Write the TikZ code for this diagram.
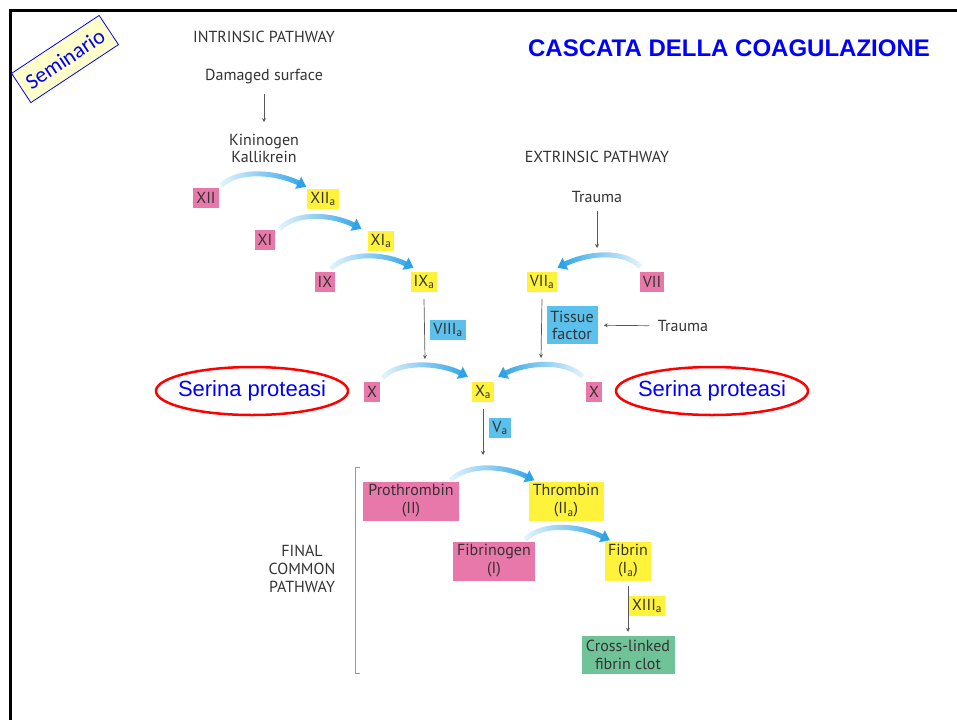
\documentclass[tikz,border=0pt]{standalone}
\usepackage{fontspec}
\setmainfont{PT Sans}
\newfontfamily\arialfont{Liberation Sans}
\newfontfamily\calibfont{Carlito}
\usetikzlibrary{arrows.meta,fadings,positioning}

\definecolor{factpink}{RGB}{233,120,170}
\definecolor{factyellow}{RGB}{255,242,58}
\definecolor{factblue}{RGB}{92,192,236}
\definecolor{clotgreen}{RGB}{112,194,152}
\definecolor{arcblue}{RGB}{38,160,230}
\definecolor{txtgray}{RGB}{51,51,51}
\definecolor{notepaper}{RGB}{255,255,204}

% fadings for the blue activation arcs
\tikzfading[name=arcfadeR, left color=transparent!90, middle color=transparent!15, right color=transparent!0]
\tikzfading[name=arcfadeL, left color=transparent!0, middle color=transparent!15, right color=transparent!90]

\tikzset{
  factor/.style={inner xsep=3pt, inner ysep=2pt, minimum height=20pt, text=txtgray,
    font=\fontsize{16}{18}\selectfont, align=center},
  pinkbox/.style={factor, fill=factpink},
  yellowbox/.style={factor, fill=factyellow},
  bluebox/.style={factor, fill=factblue},
  greenbox/.style={factor, fill=clotgreen},
  pathtext/.style={text=txtgray, font=\fontsize{16}{17}\selectfont, align=center},
  thinarr/.style={draw=gray!70!black, line width=0.7pt, -{Stealth[length=4pt,width=4pt]}},
  actarc/.style={draw=arcblue, line width=5pt, -{Triangle[width=13pt,length=9pt]}},
  sertext/.style={text=blue, font=\arialfont\fontsize{22}{24}\selectfont},
  redring/.style={draw=red, line width=2.5pt},
}

\begin{document}
\begin{tikzpicture}[x=1pt,y=-1pt]
\useasboundingbox (0,0) rectangle (957,720);

% frame
\draw[line width=3pt] (957,10.5) -- (10.5,10.5) -- (10.5,720);

\node[draw=blue, line width=0.8pt, fill=notepaper, rotate=33.5, minimum width=105pt, minimum height=35pt,
  text=blue, font=\calibfont\fontsize{22}{24}\selectfont] (semi) at (65,59) {Seminario};
\node[text=blue, font=\arialfont\bfseries\fontsize{24}{26}\selectfont] (title) at (729,48) {CASCATA DELLA COAGULAZIONE};

% intrinsic pathway
\node[pathtext] (intr) at (264,37) {INTRINSIC PATHWAY};
\node[pathtext] (dmg) at (264,77) {Damaged surface};
\node[pathtext] (kin) at (264,148) {Kininogen\\Kallikrein};
\draw[thinarr, shorten <=6pt, shorten >=8pt] (dmg) -- (kin);

\node[pinkbox] (XII) at (206,198) {XII};
\node[yellowbox] (XIIa) at (323,199) {XII\textsubscript{a}};
\node[pinkbox] (XI) at (265,240) {XI};
\node[yellowbox] (XIa) at (381,241) {XI\textsubscript{a}};
\node[pinkbox] (IX) at (325,282) {IX};
\node[yellowbox] (IXa) at (424,282) {IX\textsubscript{a}};
\node[bluebox] (VIIIa) at (448,330) {VIII\textsubscript{a}};

\draw[actarc, path fading=arcfadeR] ([xshift=2pt,yshift=2pt]XII.north east) .. controls +(18,-18) and +(-28,-14) .. ([xshift=-1pt,yshift=2pt]XIIa.north west);
\draw[actarc, path fading=arcfadeR] ([xshift=4pt,yshift=1pt]XI.north east) .. controls +(18,-18) and +(-28,-14) .. ([xshift=-6pt,yshift=2pt]XIa.north west);
\draw[actarc, path fading=arcfadeR] ([xshift=-5pt,yshift=3pt]IX.north east) .. controls +(18,-18) and +(-28,-14) .. ([xshift=3pt,yshift=4pt]IXa.north west);

\coordinate (ixdown) at (425,359);
\draw[thinarr] ([yshift=-7pt]IXa.south) -- (ixdown);

% extrinsic pathway
\node[pathtext] (extr) at (597,157) {EXTRINSIC PATHWAY};
\node[pathtext] (trauma1) at (597,197) {Trauma};
\coordinate (trdown) at (597,248);
\draw[thinarr, shorten <=5pt] (trauma1) -- (trdown);

\node[yellowbox] (VIIa) at (542,282) {VII\textsubscript{a}};
\node[pinkbox] (VII) at (652,282) {VII};
\draw[actarc, path fading=arcfadeL] ([xshift=1pt,yshift=5pt]VII.north west) .. controls +(-18,-18) and +(28,-14) .. ([yshift=4pt]VIIa.north east);

\node[bluebox, minimum width=51pt, minimum height=38pt, font=\fontsize{16}{17}\selectfont] (tissue) at (572,325) {Tissue\\factor};
\node[pathtext] (trauma2) at (683,326) {Trauma};
\draw[thinarr, shorten <=5pt, shorten >=6pt] (trauma2) -- (tissue);

\coordinate (viidown) at (541,358);
\draw[thinarr] ([yshift=-7pt]VIIa.south) -- (viidown);

% factor X
\node[pinkbox] (Xl) at (372,392) {X};
\node[yellowbox] (Xa) at (483,392) {X\textsubscript{a}};
\node[pinkbox] (Xr) at (594,392) {X};
\draw[actarc, path fading=arcfadeR] ([xshift=2pt,yshift=4pt]Xl.north east) .. controls +(18,-18) and +(-28,-14) .. ([xshift=-4pt,yshift=5pt]Xa.north west);
\draw[actarc, path fading=arcfadeL] ([xshift=-3pt,yshift=5pt]Xr.north west) .. controls +(-18,-18) and +(28,-14) .. ([xshift=4pt,yshift=5pt]Xa.north east);

\node[sertext] (serL) at (252,391) {Serina proteasi};
\node[sertext] (serR) at (712,391) {Serina proteasi};
\draw[redring] (serL.center) ellipse [x radius=96pt, y radius=24pt];
\draw[redring] (serR.center) ellipse [x radius=96pt, y radius=24pt];

\node[bluebox] (Va) at (500,428) {V\textsubscript{a}};
\coordinate (xadown) at (483,455);
\draw[thinarr] ([yshift=-7pt]Xa.south) -- (xadown);

% final common pathway
\node[pathtext, font=\fontsize{16}{18}\selectfont] (fcp) at (302,569) {FINAL\\COMMON\\PATHWAY};
\coordinate (brtop) at (360,467);
\coordinate (brbot) at (360,673);
\draw[gray!80, line width=1pt] (brtop) -- ++(-5,0) |- (brbot);

\node[pinkbox, minimum width=96pt, minimum height=39pt] (Pro) at (411,501) {Prothrombin\\(II)};
\node[yellowbox, minimum width=75pt, minimum height=39pt] (Thr) at (566,501) {Thrombin\\(II\textsubscript{a})};
\node[pinkbox, minimum width=82pt, minimum height=39pt] (Fbg) at (494,561) {Fibrinogen\\(I)};
\node[yellowbox, minimum width=46pt, minimum height=39pt] (Fbn) at (628,561) {Fibrin\\(I\textsubscript{a})};
\draw[actarc, path fading=arcfadeR] ([xshift=-9pt,yshift=1pt]Pro.north east) .. controls +(18,-18) and +(-28,-14) .. ([xshift=6pt,yshift=1pt]Thr.north west);
\draw[actarc, path fading=arcfadeR] ([xshift=-10pt,yshift=2pt]Fbg.north east) .. controls +(18,-18) and +(-28,-14) .. ([xshift=5pt,yshift=1pt]Fbn.north west);

\node[yellowbox] (XIIIa) at (647,606) {XIII\textsubscript{a}};
\node[greenbox, minimum width=93pt, minimum height=38pt] (clot) at (628,655) {Cross-linked\\fibrin clot};
\draw[thinarr, shorten <=5pt, shorten >=4pt] (Fbn) -- (clot);

\end{tikzpicture}
\end{document}
